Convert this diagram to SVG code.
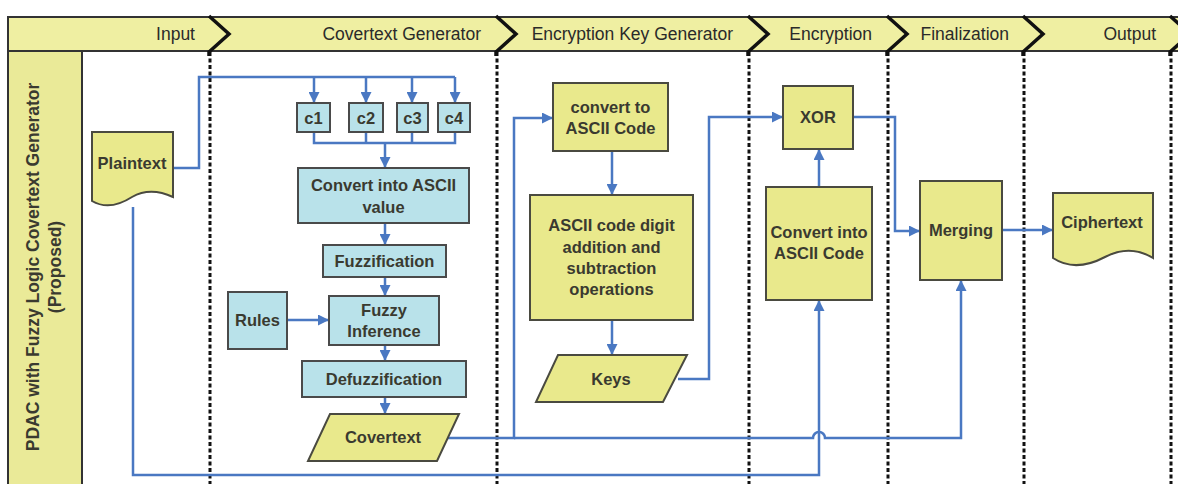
<svg xmlns="http://www.w3.org/2000/svg" width="1178" height="484" viewBox="0 0 1178 484">
<style>
  text { font-family: "Liberation Sans", Arial, sans-serif; font-size: 16.5px; font-weight: bold; fill: #3a3a30; text-anchor: middle; }
  .hdr { text-anchor: end; font-size: 17.5px; font-weight: normal; fill: #2a2a2a; }
  .lane { font-size: 17.5px; }
  .yel { fill: #e9e98c; stroke: #4a4a40; stroke-width: 2; }
  .blu { fill: #b9e2ea; stroke: #4a4a4a; stroke-width: 2; }
  .con { fill: none; stroke: #4a78c2; stroke-width: 2.5; }
  .arr { marker-end: url(#ah); }
  .sep { stroke: #111; stroke-width: 3; stroke-dasharray: 4 2.5; }
  .chev { fill: none; stroke: #111; stroke-width: 3.5; }
</style>
<defs>
  <marker id="ah" viewBox="0 0 10 10" refX="10" refY="5" markerWidth="11" markerHeight="11" markerUnits="userSpaceOnUse" orient="auto">
    <path d="M0,0 L10,5 L0,10 z" fill="#4a78c2"/>
  </marker>
</defs>
<rect width="1178" height="484" fill="#ffffff"/>

<g id="lanes">
  <rect x="8" y="17" width="1175" height="34" fill="#efefa2" stroke="#333" stroke-width="2"/>
  <rect x="8" y="51" width="74" height="436" fill="#eaea98" stroke="#333" stroke-width="2"/>
  <line x1="82" y1="51" x2="1178" y2="51" stroke="#333" stroke-width="2"/>
  <text class="lane" transform="translate(39,267) rotate(-90)">PDAC with Fuzzy Logic Covertext Generator</text>
  <text class="lane" transform="translate(61,267) rotate(-90)">(Proposed)</text>
  <g id="separators">
    <line class="sep" x1="210" y1="52" x2="210" y2="484"/>
    <line class="sep" x1="497" y1="52" x2="497" y2="484"/>
    <line class="sep" x1="749" y1="52" x2="749" y2="484"/>
    <line class="sep" x1="888" y1="52" x2="888" y2="484"/>
    <line class="sep" x1="1024" y1="52" x2="1024" y2="484"/>
    <line class="sep" x1="1171" y1="52" x2="1171" y2="484"/>
  </g>
  <polyline class="chev" points="209,16 229,34 209,52 209,56"/>
  <polyline class="chev" points="496,16 516,34 496,52 496,56"/>
  <polyline class="chev" points="748,16 768,34 748,52 748,56"/>
  <polyline class="chev" points="887,16 907,34 887,52 887,56"/>
  <polyline class="chev" points="1023,16 1043,34 1023,52 1023,56"/>
  <polyline class="chev" points="1170,16 1190,34 1170,52 1170,56"/>
  <text class="hdr" x="195" y="40">Input</text>
  <text class="hdr" x="481" y="40">Covertext Generator</text>
  <text class="hdr" x="733" y="40">Encryption Key Generator</text>
  <text class="hdr" x="872" y="40">Encryption</text>
  <text class="hdr" x="1009" y="40">Finalization</text>
  <text class="hdr" x="1156" y="40">Output</text>
</g>

<g id="connectors">
  <path class="con" d="M173,168 H199 V77 H455"/>
  <path class="con arr" d="M314,77 V103"/>
  <path class="con arr" d="M366,77 V103"/>
  <path class="con arr" d="M412,77 V103"/>
  <path class="con arr" d="M455,77 V103"/>
  <path class="con" d="M314,132 V143 H455 V132 M366,132 V143 M412,132 V143"/>
  <path class="con arr" d="M385,143 V168"/>
  <path class="con arr" d="M385,223 V245"/>
  <path class="con arr" d="M385,277 V296"/>
  <path class="con arr" d="M287,320 H329"/>
  <path class="con arr" d="M385,345 V361"/>
  <path class="con arr" d="M385,397 V414"/>
  <path class="con arr" d="M448,438 H514 V118 H553"/>
  <path class="con arr" d="M514,438 H813 A6,6 0 0 1 825,438 H961 V280"/>
  <path class="con arr" d="M612,151 V195"/>
  <path class="con arr" d="M612,320 V355"/>
  <path class="con arr" d="M678,379 H709 V117 H783"/>
  <path class="con arr" d="M819,187 V149"/>
  <path class="con arr" d="M133,207 V475 H819 V300"/>
  <path class="con arr" d="M853,117 H895 V231 H920"/>
  <path class="con arr" d="M1002,230 H1053"/>
</g>

<g id="plaintext">
  <path class="yel" d="M92,132 H173 V197 C160,191 146,189 132,197 C118,206 104,208 92,201 Z"/>
  <text x="132" y="169">Plaintext</text>
</g>
<g id="c1"><rect class="blu" x="297" y="103" width="33" height="29"/><text x="313.5" y="124">c1</text></g>
<g id="c2"><rect class="blu" x="349" y="103" width="34" height="29"/><text x="366" y="124">c2</text></g>
<g id="c3"><rect class="blu" x="397" y="103" width="31" height="29"/><text x="412.5" y="124">c3</text></g>
<g id="c4"><rect class="blu" x="438" y="103" width="32" height="29"/><text x="454" y="124">c4</text></g>
<g id="convert-ascii-value">
  <rect class="blu" x="298" y="168" width="171" height="55"/>
  <text x="383.5" y="191">Convert into ASCII</text>
  <text x="383.5" y="213">value</text>
</g>
<g id="fuzzification">
  <rect class="blu" x="323" y="245" width="123" height="32"/>
  <text x="384.5" y="267">Fuzzification</text>
</g>
<g id="rules">
  <rect class="blu" x="228" y="292" width="59" height="57"/>
  <text x="257.5" y="326">Rules</text>
</g>
<g id="fuzzy-inference">
  <rect class="blu" x="329" y="296" width="110" height="49"/>
  <text x="384" y="316">Fuzzy</text>
  <text x="384" y="337">Inference</text>
</g>
<g id="defuzzification">
  <rect class="blu" x="302" y="361" width="164" height="36"/>
  <text x="384" y="385">Defuzzification</text>
</g>
<g id="covertext">
  <polygon class="yel" points="330,414 459,414 437,461 308,461"/>
  <text x="383" y="443">Covertext</text>
</g>
<g id="convert-to-ascii-code">
  <rect class="yel" x="553" y="83" width="115" height="68"/>
  <text x="610.5" y="113">convert to</text>
  <text x="610.5" y="134">ASCII Code</text>
</g>
<g id="ascii-digit-ops">
  <rect class="yel" x="530" y="195" width="163" height="125"/>
  <text x="611.5" y="231">ASCII code digit</text>
  <text x="611.5" y="253">addition and</text>
  <text x="611.5" y="274">subtraction</text>
  <text x="611.5" y="295">operations</text>
</g>
<g id="keys">
  <polygon class="yel" points="558,355 687,355 663,402 536,402"/>
  <text x="611" y="385">Keys</text>
</g>
<g id="xor">
  <rect class="yel" x="783" y="86" width="70" height="63"/>
  <text x="818" y="123">XOR</text>
</g>
<g id="convert-into-ascii-code">
  <rect class="yel" x="766" y="187" width="106" height="113"/>
  <text x="819" y="238">Convert into</text>
  <text x="819" y="259">ASCII Code</text>
</g>
<g id="merging">
  <rect class="yel" x="920" y="181" width="82" height="99"/>
  <text x="961" y="236">Merging</text>
</g>
<g id="ciphertext">
  <path class="yel" d="M1053,193 H1153 V258 C1140,250 1124,247 1105,257 C1086,267 1068,268 1053,258 Z"/>
  <text x="1102" y="228">Ciphertext</text>
</g>
</svg>
